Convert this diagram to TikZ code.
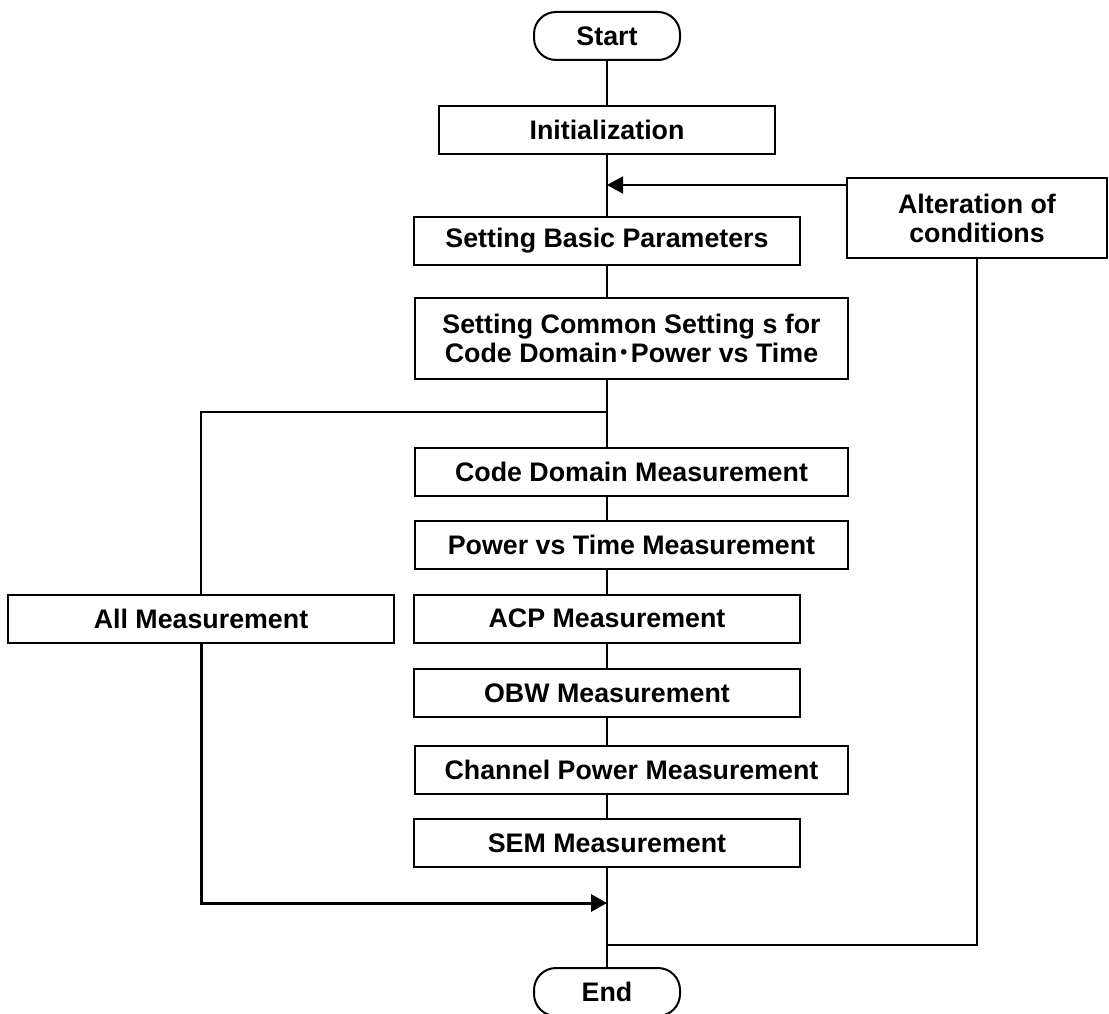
\documentclass[tikz,border=0pt]{standalone}
\usepackage{fontspec}
\setmainfont{Liberation Sans}
\newfontfamily\cjkfont{Noto Sans CJK JP}
\usetikzlibrary{arrows.meta}

\begin{document}
\begin{tikzpicture}[x=1pt,y=-1pt,
  every node/.style={font=\bfseries\fontsize{26.8}{29}\selectfont, inner sep=0pt},
  stepbox/.style={draw, line width=2pt, minimum height=48pt, align=center},
  narrowbox/.style={stepbox, minimum width=386pt},
  widebox/.style={stepbox, minimum width=433pt},
  termbox/.style={draw, line width=2pt, rounded corners=22pt,
    minimum width=146pt, minimum height=48pt},
  flow/.style={line width=2pt},
  joinarrow/.style={line width=2pt, -{Triangle[length=16pt,width=17pt]}},
  boldjoin/.style={line width=3pt, -{Triangle[length=16pt,width=17pt]}}
]
\useasboundingbox (0,0) rectangle (1109,1014);

% main column
\coordinate (m) at (607,0);

\node[termbox] (start) at (607,36) {Start};
\node[stepbox, minimum width=336pt] (init) at (607,130) {Initialization};
\node[narrowbox] (basic) at (607,241) {Setting Basic Parameters};
\node[widebox, minimum height=81pt] (common) at (631.5,338.5)
  {Setting Common Setting s for\\
   Code Domain{\cjkfont ･}Power vs Time};
\node[widebox] (code) at (631.5,471.5) {Code Domain Measurement};
\node[widebox] (pvt) at (631.5,545) {Power vs Time Measurement};
\node[narrowbox] (acp) at (607,618.5) {ACP Measurement};
\node[narrowbox] (obw) at (607,693) {OBW Measurement};
\node[widebox] (chan) at (631.5,770) {Channel Power Measurement};
\node[narrowbox] (sem) at (607,843) {SEM Measurement};
\node[termbox] (end) at (607,992) {End};

% side boxes
\node[narrowbox] (allm) at (201,618.5) {All Measurement};
\node[stepbox, minimum width=260pt, minimum height=80pt] (alter) at (977,218)
  {Alteration of\\conditions};

% junction points on the main column
\coordinate (jalt) at (607,185);
\coordinate (jbranch) at (607,412);
\coordinate (jall) at (607,903);
\coordinate (jback) at (607,945);

% main flow
\draw[flow] (start.south) -- (init.north);
\draw[flow] (init.south) -- (m |- basic.north);
\draw[flow] (basic.south) -- (m |- common.north);
\draw[flow] (m |- common.south) -- (m |- code.north);
\draw[flow] (m |- code.south) -- (m |- pvt.north);
\draw[flow] (m |- pvt.south) -- (acp.north);
\draw[flow] (acp.south) -- (obw.north);
\draw[flow] (obw.south) -- (m |- chan.north);
\draw[flow] (m |- chan.south) -- (sem.north);
\draw[flow] (sem.south) -- (end.north);

% all-measurement branch
\draw[flow] (jbranch) -| (allm.north);
\draw[boldjoin] (allm.south) |- (jall);

% alteration loop
\draw[joinarrow] (alter.west |- jalt) -- (jalt);
\draw[flow] (alter.south) |- (jback);
\end{tikzpicture}
\end{document}
